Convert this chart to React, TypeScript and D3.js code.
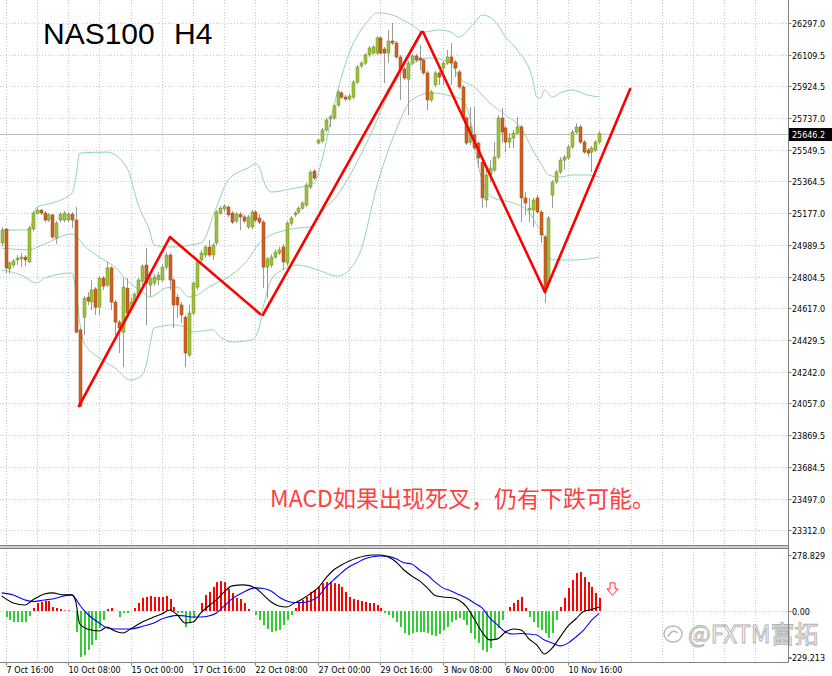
import React from 'react';
import * as d3 from 'd3';

const W = 832;
const H = 676;

// ---- candles (H4 bars, index -1 .. 152) ----
const firstBar = -1;
const opens = [25002,25084,24849,24872,24902,24908,24919,24890,25084,25178,25196,25178,25137,25167,25031,25137,25137,25137,25172,25137,24490,24565,24683,24654,24731,24624,24795,24754,24855,24654,24536,24477,24736,24618,24654,24701,24777,24872,24754,24766,24784,24784,24860,24931,24784,24683,24637,24565,24342,24589,24742,24902,24931,24978,24931,25002,25178,25202,25213,25178,25131,25172,25155,25096,25096,25184,25148,25125,24860,24872,24919,24943,24978,24884,25119,25167,25184,25207,25225,25331,25425,25590,25602,25667,25732,25738,25814,25885,25861,25849,25861,25949,26044,26061,26109,26120,26120,26209,26144,26120,26191,26179,26097,26026,25967,26061,26103,26091,26079,26003,25844,25932,26003,26032,26061,26097,26067,26009,25920,25738,25596,25638,25590,25478,25255,25402,25431,25508,25738,25679,25596,25620,25649,25685,25267,25196,25196,25267,25184,25037,24766,25284,25361,25420,25490,25502,25567,25655,25685,25596,25549,25537,25549,25596];
const highs = [25096,25090,24896,24908,24931,24943,24931,25102,25190,25207,25202,25190,25178,25172,25131,25184,25190,25184,25184,25213,24501,24689,24712,24784,24742,24807,24807,24890,24866,24666,24548,24795,24795,24677,24712,24795,24877,24972,24813,24819,24831,24877,24948,24943,24795,24701,24654,24578,24637,24777,24902,24961,24990,25019,25002,25196,25219,25231,25225,25190,25184,25184,25167,25167,25196,25196,25172,25137,24919,24936,24966,24978,24996,25131,25160,25190,25219,25248,25355,25431,25437,25614,25679,25738,25755,25820,25903,25897,25873,25879,25961,26050,26073,26120,26162,26167,26220,26220,26156,26256,26297,26191,26109,26038,26073,26114,26114,26167,26091,26014,25903,26014,26014,26073,26138,26179,26079,26020,25932,25749,25802,25802,25602,25490,25449,25490,25596,25755,25797,25691,25649,25667,25743,25697,25302,25267,25267,25284,25196,25049,25160,25373,25432,25508,25520,25579,25667,25708,25697,25608,25561,25573,25608,25661];
const lows = [24984,24825,24819,24855,24872,24860,24866,24884,25072,25167,25167,25125,25125,25025,24996,25125,25125,25125,25090,24471,24035,24460,24636,24607,24578,24578,24725,24742,24607,24460,24354,24270,24559,24607,24642,24689,24754,24519,24689,24748,24754,24772,24843,24725,24501,24559,24530,24270,24331,24578,24725,24890,24913,24919,24902,24990,25167,25184,25155,25113,25119,25078,25119,25084,25084,25125,25113,24737,24677,24855,24908,24931,24843,24866,25102,25155,25172,25196,25213,25319,25373,25584,25590,25655,25685,25726,25802,25849,25838,25838,25849,25938,26032,26050,26097,26109,26109,26109,25944,26061,26167,26085,25844,25961,25755,26050,26067,26020,25991,25785,25832,25920,25932,25932,26050,25932,25979,25909,25726,25579,25579,25549,25443,25208,25213,25361,25420,25496,25596,25537,25561,25561,25638,25125,25167,25125,25096,25172,25002,24649,24754,25208,25349,25408,25432,25490,25555,25643,25584,25526,25508,25420,25537,25584];
const closes = [25078,24855,24884,24896,24913,24919,24902,25090,25178,25196,25178,25137,25167,25037,25119,25172,25178,25172,25137,24477,24041,24677,24660,24725,24624,24795,24748,24855,24654,24536,24501,24742,24589,24654,24701,24784,24866,24766,24795,24801,24813,24860,24931,24784,24637,24637,24578,24354,24589,24766,24890,24943,24978,24931,24990,25184,25207,25219,25167,25125,25172,25155,25131,25155,25184,25137,25125,24860,24908,24919,24948,24961,24890,25119,25149,25178,25207,25237,25343,25419,25384,25608,25667,25726,25744,25809,25891,25861,25849,25867,25949,26038,26061,26109,26150,26156,26209,26120,26120,26191,26179,26097,26020,25973,26061,26103,26079,26079,26003,25844,25891,26003,25979,26061,26097,26061,26032,25920,25738,25590,25685,25561,25502,25267,25402,25443,25508,25738,25655,25596,25620,25649,25685,25267,25237,25207,25255,25184,25049,24725,25149,25361,25420,25490,25508,25567,25655,25685,25596,25537,25531,25561,25596,25646.2];
const lastPrice = 25646.2;

// ---- Bollinger bands (read at sample bars) ----
const bbUpperBars = [-1,6,8,12,17,18,19,26,31,34,37,38,42,50,54,57,62,64,65,66,68,73,79,81,84,86,88,91,93,95,98,104,107,111,114,116,120,122,125,128,131,135,136,137,138,140,142,145,149,152];
const bbUpper = [25078,25078,25213,25237,25296,25384,25531,25537,25449,25226,25066,24990,24978,25002,25213,25373,25443,25467,25449,25373,25302,25320,25355,25490,25802,25979,26120,26256,26315,26356,26350,26285,26244,26256,26244,26215,26297,26344,26315,26215,26138,25961,25861,25855,25903,25861,25885,25903,25873,25861];
const bbMidBars = [-1,6,10,17,18,19,20,24,28,31,35,37,39,41,44,47,49,52,57,62,65,67,70,75,78,81,85,90,94,97,100,105,109,114,116,120,124,128,132,135,137,139,142,145,149,152];
const bbMid = [24972,24961,24996,25055,25043,25019,24990,24919,24860,24784,24713,24684,24707,24737,24742,24684,24695,24742,24801,24902,25002,25037,25066,25090,25096,25184,25284,25478,25667,25826,25961,26067,26091,26061,25979,25920,25826,25755,25679,25549,25473,25402,25390,25402,25402,25390];
const bbLowerBars = [-1,4,8,10,17,18,19,20,24,28,32,35,36,37,38,43,46,48,53,55,58,63,65,66,68,70,75,80,85,88,91,95,100,104,109,114,117,119,121,123,125,130,134,136,138,139,141,146,152];
const bbLower = [24843,24813,24766,24796,24825,24725,24537,24419,24325,24266,24195,24225,24283,24401,24501,24519,24507,24478,24490,24448,24419,24431,24507,24625,24784,24831,24872,24843,24807,24843,24961,25331,25667,25844,25885,25867,25844,25726,25461,25314,25267,25237,25184,25108,25034,24913,24902,24902,24919];

// ---- MACD ----
const macdHist = [0,-30,-45,-55,-55,-55,-55,-25,15,40,45,50,50,20,15,10,3,3,0,-105,-229,-219,-194,-169,-144,-85,-45,10,15,0,-30,-10,-10,0,15,40,65,70,75,70,70,70,75,60,20,-10,-10,-80,-60,-35,0,40,80,95,120,144,149,144,110,90,65,60,40,10,0,-20,-45,-70,-90,-105,-100,-95,-70,-45,-20,15,45,55,70,95,105,120,139,144,144,139,134,120,95,70,60,55,50,45,40,40,30,15,-10,-20,-35,-55,-80,-110,-120,-110,-105,-105,-105,-110,-120,-125,-115,-95,-80,-55,-45,-35,-45,-70,-110,-139,-159,-194,-204,-184,-144,-85,-45,0,20,40,55,70,15,-30,-55,-80,-95,-110,-134,-110,-45,20,65,115,154,189,194,169,144,120,90,65];
const macdBars = [-1,2,5,7,10,12,15,17,18,19,21,24,26,28,30,32,35,38,40,42,44,46,48,50,52,54,56,58,61,64,66,68,70,72,74,76,78,80,82,84,86,88,90,92,94,96,98,100,102,104,106,108,110,112,114,116,118,120,122,124,126,128,130,132,134,136,138,140,142,144,146,148,150,152];
const macdMain = [75,40,30,55,85,90,80,80,45,-65,-90,-100,-80,-100,-110,-90,-55,-30,-15,5,-20,-60,-55,-10,25,55,95,125,130,115,80,45,25,20,40,60,85,115,164,204,229,249,264,274,279,279,269,244,204,174,150,115,77,70,67,55,22,-40,-105,-144,-139,-105,-90,-95,-139,-169,-214,-184,-129,-75,-40,-2,7,20];
const macdSignal = [90,80,55,47,55,60,75,80,60,30,-15,-60,-85,-90,-90,-90,-77,-60,-40,-28,-22,-25,-30,-30,-25,-10,25,60,95,115,112,100,70,50,42,42,50,70,120,155,190,220,240,260,270,274,272,260,240,234,204,179,144,115,100,82,65,40,15,-35,-70,-105,-115,-112,-115,-120,-145,-160,-174,-160,-130,-95,-47,-12];

// ---- axes ----
const priceTicks = [26297.0,26109.5,25924.5,25737.0,25549.5,25364.5,25177.0,24989.5,24804.5,24617.0,24429.5,24242.0,24057.0,23869.5,23684.5,23497.0,23312.0];
const macdTicks = [278.829, 0, -229.213];
const macdTickLabels = ['278.829', '0.00', '-229.213'];
const timeLabelBars = [0,16,32,48,64,80,96,112,128,144];
const timeLabels = ['7 Oct 16:00','10 Oct 08:00','15 Oct 00:00','17 Oct 16:00','22 Oct 08:00','27 Oct 00:00','29 Oct 16:00','3 Nov 08:00','6 Nov 00:00','10 Nov 16:00'];

// ---- annotations ----
const zigBars = [18.8, 42.1, 65.2, 65.9, 106.5, 106.9, 138.1, 159.9];
const zigPrices = [24042, 25037, 24584, 24578, 26244, 26244, 24713, 25908];
const zigSegments = [[0,1],[1,2],[3,4],[5,6],[6,7]];
const arrowBar = 155.4;
const arrowValue = 140;

const xS = d3.scaleLinear().domain([0, 144]).range([5.5, 568]);
const yP = d3.scaleLinear().domain([23312, 26297]).range([530, 23]);
const yM = d3.scaleLinear().domain([-229.213, 278.829]).range([657, 555]);

const AXIS_X = 788.5;
const MAIN_BOTTOM = 545;
const MACD_TOP = 549;
const MACD_BOTTOM = 662.5;
const gridBars = d3.range(0, 193, 8);

const axisFont = '"DejaVu Sans", Verdana, sans-serif';
const BAND = '#8fd6ae';

export default function App() {
  const bandLine = (bars: number[], vals: number[]) =>
    d3.line<number>()
      .x((_, k) => xS(bars[k]))
      .y((v) => yP(v))
      .curve(d3.curveMonotoneX)(vals) as string;

  const macdLine = (vals: number[]) =>
    d3.line<number>()
      .x((_, k) => xS(macdBars[k]))
      .y((v) => yM(v))
      .curve(d3.curveMonotoneX)(vals) as string;

  const ax = xS(arrowBar);
  const ay = yM(arrowValue);

  return (
    <svg width={W} height={H} style={{ position: 'absolute', left: 0, top: 0, background: '#fff' }}>
      <rect x={0} y={0} width={W} height={H} fill="#fff" />
      <defs>
        <clipPath id="mainClip"><rect x={0} y={0} width={AXIS_X} height={MAIN_BOTTOM} /></clipPath>
        <clipPath id="macdClip"><rect x={0} y={MACD_TOP} width={AXIS_X} height={MACD_BOTTOM - MACD_TOP} /></clipPath>
      </defs>

      {/* grid main */}
      {priceTicks.map((p) => (
        <line key={'hg' + p} x1={0} x2={AXIS_X} y1={Math.round(yP(p)) + 0.5} y2={Math.round(yP(p)) + 0.5}
          stroke="#c8c8c8" strokeDasharray="1,2" />
      ))}
      {gridBars.map((b) => (
        <g key={'vg' + b}>
          <line x1={Math.round(xS(b)) + 0.5} x2={Math.round(xS(b)) + 0.5} y1={0} y2={MAIN_BOTTOM}
            stroke="#c8c8c8" strokeDasharray="1,2" />
          <line x1={Math.round(xS(b)) + 0.5} x2={Math.round(xS(b)) + 0.5} y1={MACD_TOP} y2={MACD_BOTTOM}
            stroke="#c8c8c8" strokeDasharray="1,2" />
        </g>
      ))}
      {/* current price line */}
      <line x1={0} x2={AXIS_X} y1={Math.round(yP(lastPrice)) + 0.5} y2={Math.round(yP(lastPrice)) + 0.5} stroke="#c0c0c0" />

      <g clipPath="url(#mainClip)">
        {/* Bollinger */}
        <path d={bandLine(bbUpperBars, bbUpper)} fill="none" stroke={BAND} strokeWidth={1} />
        <path d={bandLine(bbMidBars, bbMid)} fill="none" stroke={BAND} strokeWidth={1} />
        <path d={bandLine(bbLowerBars, bbLower)} fill="none" stroke={BAND} strokeWidth={1} />

        {/* candles */}
        {opens.map((o, k) => {
          const i = firstBar + k;
          const cx = Math.round(xS(i));
          const c = closes[k];
          const up = c >= o;
          const yTop = yP(Math.max(o, c));
          const yBot = yP(Math.min(o, c));
          const h = Math.max(1, yBot - yTop);
          return (
            <g key={'c' + i}>
              <line x1={cx + 0.5} x2={cx + 0.5} y1={yP(highs[k])} y2={yP(lows[k])} stroke="#9a9a9a" strokeWidth={1} />
              <rect x={cx - 1} y={yTop} width={3} height={h}
                fill={up ? '#9ec23a' : '#d2611e'} stroke={up ? '#6e8a2a' : '#8e4a1a'} strokeWidth={0.5} />
            </g>
          );
        })}

        {/* zigzag */}
        {zigSegments.map(([a, b], k) => (
          <line key={'z' + k} x1={xS(zigBars[a])} y1={yP(zigPrices[a])} x2={xS(zigBars[b])} y2={yP(zigPrices[b])}
            stroke="#ff0000" strokeWidth={2.6} strokeLinecap="round" />
        ))}
      </g>

      {/* title & note */}
      <text x={43} y={43.5} fontFamily='"Liberation Sans", Arial, sans-serif' fontSize={30} fill="#000">NAS100</text>
      <text x={174} y={43.5} fontFamily='"Liberation Sans", Arial, sans-serif' fontSize={30} fill="#000">H4</text>
      <text x={270} y={507} fontFamily='"Noto Sans CJK SC", sans-serif' fontSize={23} fill="#ff4040">MACD如果出现死叉，仍有下跌可能。</text>

      {/* panel separator */}
      <rect x={0} y={545} width={AXIS_X} height={4} fill="#cfcfcf" />
      <line x1={0} x2={AXIS_X} y1={545.5} y2={545.5} stroke="#7f7f7f" />
      <line x1={0} x2={AXIS_X} y1={548.5} y2={548.5} stroke="#7f7f7f" />

      {/* MACD panel */}
      <line x1={0} x2={AXIS_X} y1={Math.round(yM(0)) + 0.5} y2={Math.round(yM(0)) + 0.5} stroke="#c8c8c8" strokeDasharray="1,2" />
      <g clipPath="url(#macdClip)">
        {macdHist.map((v, k) => {
          const i = firstBar + k;
          const cx = Math.round(xS(i));
          const y0 = yM(0);
          const y1 = yM(v);
          return (
            <rect key={'h' + i} x={cx} y={Math.min(y0, y1)} width={2} height={Math.abs(y1 - y0)}
              fill={v >= 0 ? '#ff0000' : '#33cc33'} />
          );
        })}
        <path d={macdLine(macdSignal)} fill="none" stroke="#0000ff" strokeWidth={1.1} />
        <path d={macdLine(macdMain)} fill="none" stroke="#000" strokeWidth={1.1} />
      </g>
      {/* down arrow marker */}
      <path d={`M${ax - 2.5},${ay} h5 v6 h3 l-5.5,6.5 l-5.5,-6.5 h3 z`} fill="#fff" stroke="#ff3030" strokeWidth={1} />

      {/* watermark */}
      <g opacity={0.9}>
        <ellipse cx={673} cy={634} rx={9} ry={8} fill="none" stroke="#b0b0b0" strokeWidth={1.4} />
        <path d="M668,637 q4,-9 10,-4" fill="none" stroke="#b0b0b0" strokeWidth={1.4} />
        <text x={688} y={643} fontFamily='"Noto Sans CJK SC", sans-serif' fontSize={24} fill="#fff" stroke="#a8a8a8" strokeWidth={0.9}>@FXTM富拓</text>
      </g>

      {/* frame */}
      <line x1={AXIS_X} x2={AXIS_X} y1={0} y2={MACD_BOTTOM} stroke="#808080" />
      <line x1={0} x2={AXIS_X} y1={MACD_BOTTOM} y2={MACD_BOTTOM} stroke="#808080" />

      {/* price axis */}
      {priceTicks.map((p) => {
        const y = Math.round(yP(p)) + 0.5;
        return (
          <g key={'pt' + p}>
            <line x1={AXIS_X} x2={AXIS_X + 3} y1={y} y2={y} stroke="#808080" />
            <text x={792} y={y + 3} fontFamily={axisFont} fontSize={8} fill="#000">{p.toFixed(1)}</text>
          </g>
        );
      })}
      <rect x={789} y={Math.round(yP(lastPrice)) - 6} width={43} height={13} fill="#000" />
      <text x={792} y={Math.round(yP(lastPrice)) + 3.5} fontFamily={axisFont} fontSize={8} fill="#fff">{lastPrice.toFixed(1)}</text>

      {/* macd axis */}
      {macdTicks.map((v, k) => {
        const y = Math.round(yM(v)) + 0.5;
        return (
          <g key={'mt' + k}>
            <line x1={AXIS_X} x2={AXIS_X + 3} y1={y} y2={y} stroke="#808080" />
            <text x={v < 0 ? 789 : 792} y={y + 3} fontFamily={axisFont} fontSize={8} fill="#000">{macdTickLabels[k]}</text>
          </g>
        );
      })}

      {/* time axis */}
      {timeLabelBars.map((b, k) => {
        const x = Math.round(xS(b)) + 0.5;
        return (
          <g key={'tl' + b}>
            <line x1={x} x2={x} y1={MACD_BOTTOM} y2={MACD_BOTTOM + 3} stroke="#808080" />
            <text x={x} y={673} fontFamily={axisFont} fontSize={8} fill="#000">{timeLabels[k]}</text>
          </g>
        );
      })}
    </svg>
  );
}
